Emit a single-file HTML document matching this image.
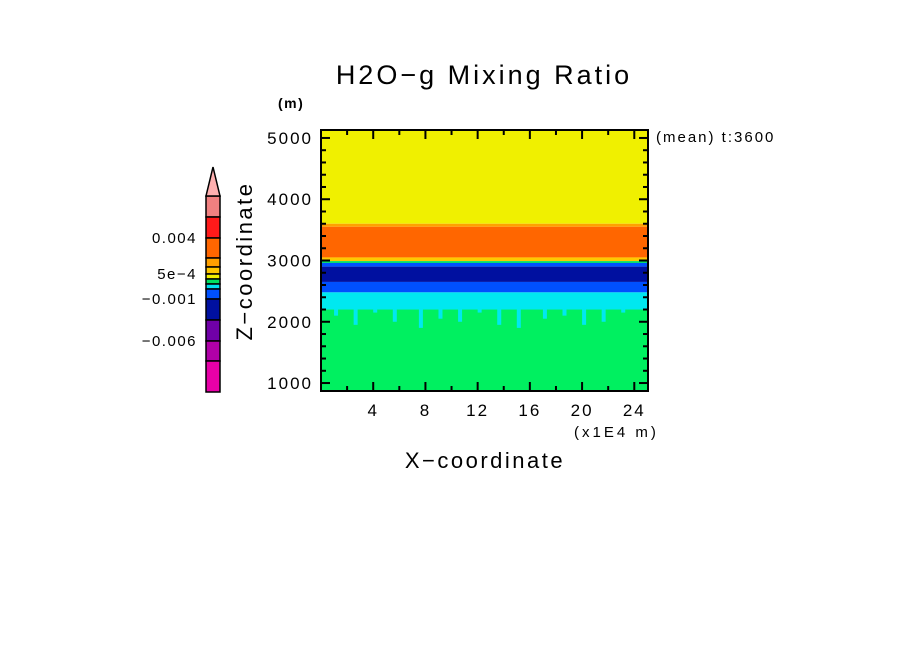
<!DOCTYPE html>
<html><head><meta charset="utf-8"><style>
body{margin:0;background:#fff;}
svg text{font-family:"Liberation Sans",sans-serif;}
</style></head><body>
<svg id="chart" width="904" height="654" xmlns="http://www.w3.org/2000/svg">
<text x="484" y="84" font-size="27" letter-spacing="3" text-anchor="middle">H2O−g Mixing Ratio</text>
<text x="278" y="108" font-size="14" letter-spacing="1.5" font-weight="bold">(m)</text>
<text x="656" y="142" font-size="15" letter-spacing="2">(mean) t:3600</text>
<text x="574" y="437" font-size="15" letter-spacing="3">(x1E4 m)</text>
<text x="485" y="468" font-size="22" letter-spacing="2.5" text-anchor="middle">X−coordinate</text>
<text x="252" y="261" font-size="22" letter-spacing="2.5" text-anchor="middle" transform="rotate(-90 252 261)">Z−coordinate</text>
<g id="field"></g>
<g id="axes"></g>
<g id="cbar"></g>
</svg>
<script>
// axis domain
const xDomain=[0,25.05], zDomain=[870,5130];
const xTicks=[4,8,12,16,20,24];
const zTicks=[1000,2000,3000,4000,5000];
// vertical band profile (z top, z bottom, color)
const bandTop=[5130,3600,3550,3050,2990,2960,2900,2650,2480,2200];
const bandBottom=[3600,3550,3050,2990,2960,2900,2650,2480,2200,870];
const bandColor=['#f0f000','#ffa000','#ff6600','#ffc800','#00e060','#0050ff','#0010a0','#0050ff','#00e8f0','#00f060'];
// cyan-bottom excursions along x (x position, z bottom)
const streakX=[1,2.5,4,5.5,7.5,9,10.5,12,13.5,15,17,18.5,20,21.5,23];
const streakZ=[2100,1950,2150,2000,1900,2050,2000,2150,1950,1900,2050,2100,1950,2000,2150];
// colorbar
const cbColors=['#f08080','#ff1a1a','#ff6600','#ffa000','#ffc800','#f0f000','#00e060','#00e0f0','#0050ff','#0010a0','#7000a8','#b000a8','#e800a8'];
const cbLabels=['0.004','5e-4','-0.001','-0.006'];
const cbLabelIdx=[2,5,9,11];

const L=321,R=648,T=130,B=391;
const sx=v=>L+(v-xDomain[0])/(xDomain[1]-xDomain[0])*(R-L);
const sz=v=>B-(v-zDomain[0])/(zDomain[1]-zDomain[0])*(B-T);
const NS='http://www.w3.org/2000/svg';
function mk(tag,at,parent){const e=document.createElementNS(NS,tag);for(const k in at)e.setAttribute(k,at[k]);parent.appendChild(e);return e;}
const field=document.getElementById('field');
bandTop.forEach((t,i)=>{
  const r=mk('rect',{x:L,y:sz(t),width:R-L,height:sz(bandBottom[i])-sz(t),fill:bandColor[i]},field);
  
  
});
streakX.forEach((x,i)=>{
  const r=mk('rect',{x:sx(x),y:sz(2200),width:4,height:sz(streakZ[i])-sz(2200),fill:'#00e8f0'},field);
  
  
});
const axes=document.getElementById('axes');
const frame=mk('rect',{x:L,y:T,width:R-L,height:B-T,fill:'none',stroke:'#000','stroke-width':2},axes);


for(let v=2;v<=24;v+=2){const x=sx(v);const big=v%4===0;const h=big?9:5;
  mk('line',{x1:x,y1:B,x2:x,y2:B-h,stroke:'#000','stroke-width':2},axes);
  mk('line',{x1:x,y1:T,x2:x,y2:T+h,stroke:'#000','stroke-width':2},axes);}
for(let v=1000;v<=5000;v+=200){const y=sz(v);const big=v%1000===0;const h=big?9:5;
  mk('line',{x1:L,y1:y,x2:L+h,y2:y,stroke:'#000','stroke-width':2},axes);
  mk('line',{x1:R,y1:y,x2:R-h,y2:y,stroke:'#000','stroke-width':2},axes);}
xTicks.forEach(v=>{const t=mk('text',{x:sx(v),y:416,'font-size':17,'letter-spacing':2,'text-anchor':'middle'},axes);t.textContent=v;
  
  });
zTicks.forEach(v=>{const t=mk('text',{x:313,y:sz(v)+6,'font-size':17,'letter-spacing':2,'text-anchor':'end'},axes);t.textContent=v;
  
  });
const cb=document.getElementById('cbar');
const cbTop=196,cbBot=392,cbX=206,cbW=14;
const bounds=[196,217,238,258,267,274,279,284,289,299,320,341,361,392];
cbColors.forEach((c,i)=>{const r=mk('rect',{x:cbX,y:bounds[i],width:cbW,height:bounds[i+1]-bounds[i],fill:c,stroke:'#000','stroke-width':1.5},cb);
  
  });
const tri=mk('polygon',{points:`${cbX},${cbTop} ${cbX+cbW},${cbTop} ${cbX+7},167`,fill:'#ffb0b0',stroke:'#000','stroke-width':1.5},cb);


cbLabels.forEach((s,i)=>{const y=bounds[cbLabelIdx[i]];const t=mk('text',{x:197,y:y+5,'font-size':15,'letter-spacing':1.5,'text-anchor':'end'},cb);t.textContent=s.replace('-','−');
  
  });
</script>
</body></html>
